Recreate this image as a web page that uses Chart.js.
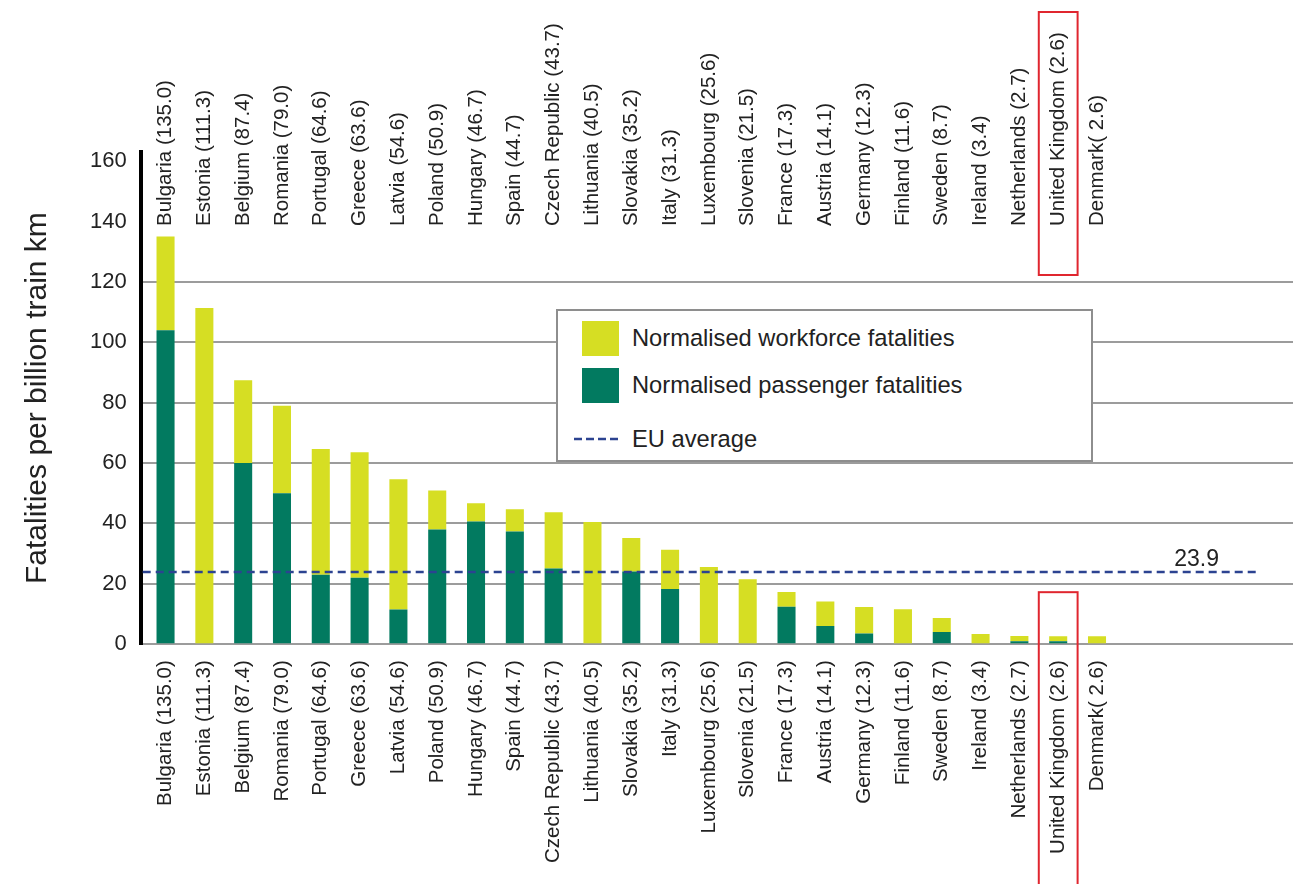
<!DOCTYPE html>
<html>
<head>
<meta charset="utf-8">
<script src="https://cdn.jsdelivr.net/npm/chart.js@4.4.1/dist/chart.umd.min.js"></script>
<style>
  html, body { margin: 0; padding: 0; background: #fff; }
  #wrap { position: relative; width: 1293px; height: 884px; overflow: hidden; }
  #legend {
    position: absolute; left: 556px; top: 309px; width: 533px; height: 149px;
    border: 2px solid #8e8e8e; background: #fff;
    font-family: 'Liberation Sans', Arial, sans-serif; font-size: 23.7px; color: #222;
  }
  .item { position: absolute; left: 0; height: 36px; display: flex; align-items: center; white-space: nowrap; }
  .swatch { width: 37px; height: 35px; margin-left: 24px; margin-right: 13px; }
  .dash { width: 45px; height: 4px; margin-left: 16px; margin-right: 13px; }
</style>
</head>
<body>
<div id="wrap">
  <canvas id="chart" width="1293" height="884"></canvas>
  <div id="legend"></div>
</div>
<script>
// Country labels with the combined rate in brackets
const tickLabels = [
  'Bulgaria (135.0)', 'Estonia (111.3)', 'Belgium (87.4)', 'Romania (79.0)', 'Portugal (64.6)',
  'Greece (63.6)', 'Latvia (54.6)', 'Poland (50.9)', 'Hungary (46.7)', 'Spain (44.7)',
  'Czech Republic (43.7)', 'Lithuania (40.5)', 'Slovakia (35.2)', 'Italy (31.3)', 'Luxembourg (25.6)',
  'Slovenia (21.5)', 'France (17.3)', 'Austria (14.1)', 'Germany (12.3)', 'Finland (11.6)',
  'Sweden (8.7)', 'Ireland (3.4)', 'Netherlands (2.7)', 'United Kingdom (2.6)', 'Denmark( 2.6)'
];

// Fatalities per billion train km
const passenger = [
  104.0, 0, 60.0, 50.0, 23.0,
  22.0, 11.5, 38.0, 40.6, 37.3,
  25.1, 0, 24.1, 18.3, 0,
  0, 12.4, 6.0, 3.5, 0,
  4.0, 0, 1.0, 1.0, 0
];
const workforce = [
  31.0, 111.3, 27.4, 29.0, 41.6,
  41.6, 43.1, 12.9, 6.1, 7.4,
  18.6, 40.5, 11.1, 13.0, 25.6,
  21.5, 4.9, 8.1, 8.8, 11.6,
  4.7, 3.4, 1.7, 1.6, 2.6
];

const yTicks = [0, 20, 40, 60, 80, 100, 120, 140, 160];
const gridTop = 120;
const euAverage = 23.9;
const highlighted = 'United Kingdom';

const TEAL = '#027a60';
const YELLOW = '#d6de23';
const EU_BLUE = '#2c4391';
const GRID = '#9c9c9c';
const TEXT = '#222';
const FONT = "'Liberation Sans', Arial, sans-serif";

Chart.defaults.font.family = FONT;
Chart.defaults.color = TEXT;

const xRange = { min: -0.64, max: 29.05 };
const categoryTicks = scale => { scale.ticks = tickLabels.map((_, i) => ({ value: i })); };
const categoryLabel = v => tickLabels[v];
// rotated labels should not pull the plot in from the sides
const noSidePadding = scale => { scale.paddingLeft = 0; scale.paddingRight = 0; };

// dashed EU average with its value at the right end
const euLine = {
  id: 'euLine',
  afterDatasetsDraw(chart) {
    const { ctx, chartArea, scales: { y } } = chart;
    const py = y.getPixelForValue(euAverage);
    const end = chartArea.right - 37;
    ctx.save();
    ctx.strokeStyle = EU_BLUE;
    ctx.lineWidth = 2.5;
    ctx.setLineDash([8, 5]);
    ctx.beginPath();
    ctx.moveTo(chartArea.left + 2, py);
    ctx.lineTo(end, py);
    ctx.stroke();
    ctx.setLineDash([]);
    ctx.fillStyle = TEXT;
    ctx.font = '23px ' + FONT;
    ctx.textAlign = 'right';
    ctx.textBaseline = 'alphabetic';
    ctx.fillText(euAverage.toFixed(1), end - 37, py - 6);
    ctx.restore();
  }
};

// red frames around the highlighted country's labels
const highlightBoxes = {
  id: 'highlightBoxes',
  afterDraw(chart) {
    const { ctx, chartArea, scales: { x, y } } = chart;
    const i = tickLabels.findIndex(l => l.startsWith(highlighted));
    const cx = x.getPixelForValue(i);
    const half = (x.getPixelForValue(1) - x.getPixelForValue(0)) / 2;
    ctx.save();
    ctx.strokeStyle = '#e0262f';
    ctx.lineWidth = 2;
    ctx.strokeRect(cx - half, chartArea.top - 140, half * 2, 263);
    ctx.strokeRect(cx - half, y.getPixelForValue(0) - 52, half * 2, 400);
    ctx.restore();
  }
};

const chart = new Chart(document.getElementById('chart'), {
  type: 'bar',
  data: {
    datasets: [
      {
        label: 'Normalised passenger fatalities',
        data: passenger.map((v, i) => ({ x: i, y: v })),
        backgroundColor: TEAL
      },
      {
        label: 'Normalised workforce fatalities',
        data: workforce.map((v, i) => ({ x: i, y: v })),
        backgroundColor: YELLOW
      }
    ]
  },
  options: {
    responsive: false,
    animation: false,
    layout: { padding: { left: 0, right: 0, top: -4, bottom: 13 } },
    datasets: { bar: { barPercentage: 0.465, categoryPercentage: 1, borderWidth: 0 } },
    plugins: { legend: { display: false }, tooltip: { enabled: false } },
    scales: {
      x: {
        type: 'linear', position: 'bottom', stacked: true, offset: false,
        min: xRange.min, max: xRange.max,
        afterBuildTicks: categoryTicks,
        afterFit: noSidePadding,
        ticks: { autoSkip: false, minRotation: 90, maxRotation: 90, padding: 8,
                 font: { size: 20.5 }, color: TEXT, callback: categoryLabel },
        grid: { display: false },
        border: { display: false }
      },
      xTop: {
        type: 'linear', position: 'top', offset: false,
        min: xRange.min, max: xRange.max,
        afterBuildTicks: categoryTicks,
        afterFit: noSidePadding,
        ticks: { autoSkip: false, minRotation: 90, maxRotation: 90, mirror: true, padding: 74,
                 font: { size: 20.5 }, color: TEXT, callback: categoryLabel },
        grid: { display: false },
        border: { display: false }
      },
      y: {
        stacked: true, min: 0, max: 163,
        afterBuildTicks: scale => { scale.ticks = yTicks.map(v => ({ value: v })); },
        ticks: { padding: 14, font: { size: 22 }, color: TEXT },
        grid: {
          color: c => (c.tick && c.tick.value <= gridTop ? GRID : 'rgba(0,0,0,0)'),
          lineWidth: 2, drawTicks: false
        },
        border: { color: '#000', width: 4 },
        title: {
          display: true, text: 'Fatalities per billion train km',
          font: { size: 30 }, color: TEXT, padding: { top: 20, bottom: 20 }
        }
      }
    }
  },
  plugins: [euLine, highlightBoxes]
});

// legend box built from the datasets, workforce listed first
(function buildLegend() {
  const box = document.getElementById('legend');
  const rows = [chart.data.datasets[1], chart.data.datasets[0]];
  const centres = [27, 74];
  rows.forEach((ds, k) => {
    const item = document.createElement('div');
    item.className = 'item';
    item.style.top = (centres[k] - 18) + 'px';
    const sw = document.createElement('div');
    sw.className = 'swatch';
    sw.style.background = ds.backgroundColor;
    item.appendChild(sw);
    item.appendChild(document.createTextNode(ds.label));
    box.appendChild(item);
  });
  const eu = document.createElement('div');
  eu.className = 'item';
  eu.style.top = (128 - 18) + 'px';
  eu.innerHTML = '<svg class="dash" width="45" height="4"><line x1="0" y1="2" x2="45" y2="2" stroke="' +
    EU_BLUE + '" stroke-width="2.5" stroke-dasharray="8 4"/></svg>EU average';
  box.appendChild(eu);
})();
</script>
</body>
</html>
